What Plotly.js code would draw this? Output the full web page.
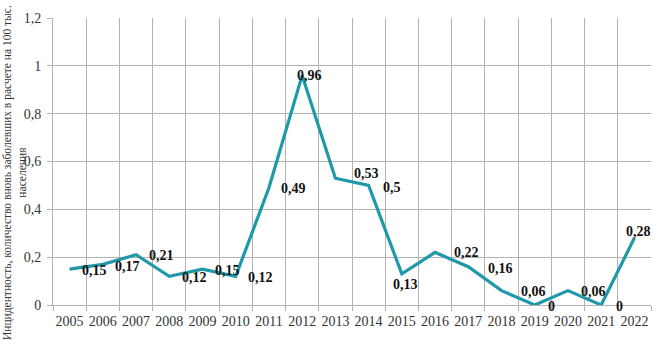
<!DOCTYPE html>
<html>
<head>
<meta charset="utf-8">
<script src="https://cdn.plot.ly/plotly-3.0.1.min.js"></script>
<style>html,body{margin:0;padding:0;background:#fff;}#chart{width:657px;height:351px;}</style>
</head>
<body>
<div id="chart"></div>
<script>
const years = ['2005','2006','2007','2008','2009','2010','2011','2012','2013','2014','2015','2016','2017','2018','2019','2020','2021','2022'];
const incidence = [0.15,0.17,0.21,0.12,0.15,0.12,0.49,0.96,0.53,0.5,0.13,0.22,0.16,0.06,0,0.06,0,0.28];
const labels = ['0,15','0,17','0,21','0,12','0,15','0,12','0,49','0,96','0,53','0,5','0,13','0,22','0,16','0,06','0','0,06','0','0,28'];
const yTickVals = [0,0.2,0.4,0.6,0.8,1,1.2];
const yTickText = ['0','0,2','0,4','0,6','0,8','1','1,2'];
const yTitle = 'Инцидентность, количество вновь заболевших в расчете на 100 тыс.<br>населения';

// label offsets (style, pixels)
const labelDx = [25,25,25,25,25,25,25,7,31,23,4,31,32,32,17,26,18,4];
const labelDy = [-1,-2,-1,-1,-1,-1,-1,0,5,-2,-11,0,-2,-1,-1,-1,-1,7];

const serif = '"Liberation Serif", "Times New Roman", serif';

const annotations = years.map((yr,i)=>({
  x: i, y: incidence[i], xref:'x', yref:'y',
  text: '<b>'+labels[i]+'</b>', showarrow:false,
  xanchor:'center', yanchor:'middle',
  xshift: labelDx[i], yshift: labelDy[i],
  font:{family:serif, size:14, color:'#111'}
}));

// y-axis title drawn as a rotated annotation
annotations.push({
  xref:'paper', yref:'paper', x:-0.0635, y:0.46,
  xanchor:'center', yanchor:'middle', textangle:-90,
  text:yTitle, showarrow:false, align:'center',
  font:{family:serif, size:11.5, color:'#333'}
});

const trace = {
  x: years, y: incidence, type:'scatter', mode:'lines',
  line:{color:'#1f99a9', width:3.2},
  hoverinfo:'skip'
};

const layout = {
  width:657, height:351,
  margin:{l:53, r:6, t:18, b:46},
  paper_bgcolor:'#fff', plot_bgcolor:'#fff',
  showlegend:false,
  separators:', ',
  font:{family:serif, color:'#333'},
  xaxis:{
    type:'category', range:[-0.5,17.5], tickson:'boundaries',
    showgrid:true, gridcolor:'#b3b3b3', gridwidth:1,
    ticks:'outside', ticklen:5, tickcolor:'#b3b3b3',
    showline:true, linecolor:'#b3b3b3', linewidth:1,
    tickangle:0, ticklabelstandoff:3,
    tickfont:{family:serif, size:14, color:'#333'}, fixedrange:true
  },
  yaxis:{
    range:[0,1.2], tickvals:yTickVals, ticktext:yTickText,
    showgrid:true, gridcolor:'#b3b3b3', gridwidth:1,
    ticks:'outside', ticklen:5, tickcolor:'#b3b3b3',
    showline:true, linecolor:'#b3b3b3', linewidth:1,
    zeroline:false,
    tickfont:{family:serif, size:14, color:'#333'},
    ticklabelstandoff:3,
    automargin:false, fixedrange:true
  },
  annotations: annotations
};

Plotly.newPlot('chart',[trace],layout,{displayModeBar:false, staticPlot:true});
</script>
</body>
</html>
